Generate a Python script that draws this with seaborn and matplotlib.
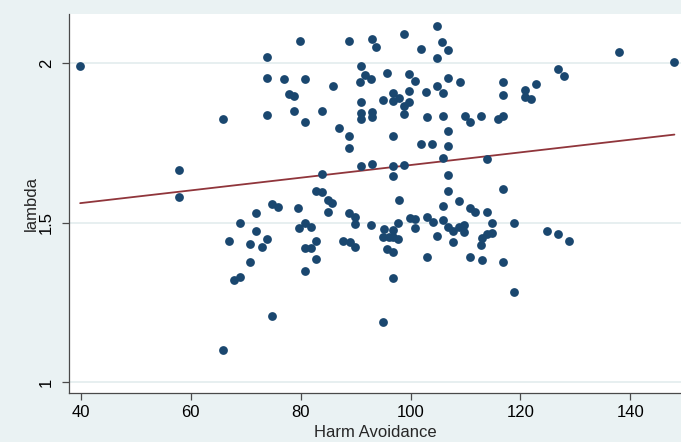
import matplotlib
matplotlib.use("Agg")
import matplotlib.pyplot as plt
import seaborn as sns
import pandas as pd

# Harm Avoidance score and lambda for each subject
harm_avoidance = [
    39.9, 57.9, 57.9, 65.8, 65.8, 66.9, 67.8, 68.9, 68.9, 70.8,
    70.8, 71.9, 71.9, 72.9, 73.8, 73.8, 73.8, 73.8, 74.8, 75.8,
    74.8, 76.9, 77.8, 78.8, 78.8, 79.9, 79.6, 79.7, 80.8, 80.8,
    80.8, 81.9, 80.8, 81.9, 80.8, 82.8, 82.8, 82.8, 83.9, 83.9,
    83.9, 84.9, 85.8, 84.9, 85.9, 86.9, 88.8, 88.8, 88.8, 88.8,
    89.9, 89.9, 87.8, 89.0, 89.9, 90.9, 91.7, 92.8, 90.8, 90.9,
    90.9, 92.9, 90.9, 92.9, 90.9, 92.9, 92.9, 93.8, 92.8, 95.8,
    94.9, 96.9, 97.9, 96.9, 96.9, 96.9, 96.9, 97.9, 95.1, 94.9,
    96.0, 96.9, 97.8, 97.8, 95.7, 96.9, 96.9, 94.9, 98.9, 99.8,
    100.9, 99.8, 99.8, 98.9, 98.9, 98.9, 99.9, 100.9, 100.9, 101.9,
    101.9, 102.8, 103.0, 103.9, 103.0, 104.0, 103.0, 104.8, 104.9, 105.8,
    106.9, 104.9, 104.9, 105.9, 105.9, 105.9, 105.9, 105.9, 106.9, 106.9,
    106.9, 106.9, 106.9, 106.9, 107.8, 108.8, 109.8, 107.8, 108.9, 109.0,
    109.9, 110.9, 110.8, 111.7, 109.8, 110.8, 112.8, 113.9, 113.9, 114.9,
    113.0, 113.9, 114.9, 112.9, 113.0, 116.0, 116.9, 116.9, 116.9, 116.8,
    116.8, 118.9, 118.9, 120.9, 120.9, 121.9, 122.9, 124.9, 126.9, 128.8,
    126.9, 128.0, 137.9, 148.0, 96.9,
]
lambda_vals = [
    1.992, 1.664, 1.580, 1.825, 1.101, 1.442, 1.319, 1.329, 1.498, 1.434,
    1.376, 1.475, 1.531, 1.424, 1.450, 2.019, 1.955, 1.838, 1.558, 1.550,
    1.207, 1.950, 1.905, 1.898, 1.849, 2.071, 1.547, 1.483, 1.951, 1.817,
    1.498, 1.486, 1.420, 1.421, 1.347, 1.441, 1.387, 1.600, 1.597, 1.652,
    1.851, 1.571, 1.562, 1.532, 1.928, 1.796, 2.071, 1.773, 1.733, 1.529,
    1.519, 1.496, 1.442, 1.438, 1.424, 1.991, 1.964, 1.951, 1.940, 1.878,
    1.844, 1.846, 1.825, 1.831, 1.678, 1.684, 2.076, 2.050, 1.494, 1.970,
    1.886, 1.906, 1.891, 1.881, 1.772, 1.678, 1.647, 1.571, 1.479, 1.456,
    1.456, 1.477, 1.498, 1.448, 1.416, 1.409, 1.326, 1.187, 2.092, 1.966,
    1.944, 1.914, 1.878, 1.867, 1.841, 1.681, 1.514, 1.511, 1.482, 2.045,
    1.746, 1.909, 1.831, 1.746, 1.519, 1.503, 1.393, 1.458, 2.118, 2.066,
    2.042, 2.016, 1.930, 1.907, 1.836, 1.704, 1.552, 1.508, 1.954, 1.788,
    1.741, 1.650, 1.600, 1.487, 1.475, 1.487, 1.493, 1.440, 1.567, 1.940,
    1.835, 1.816, 1.545, 1.534, 1.472, 1.391, 1.836, 1.700, 1.534, 1.498,
    1.451, 1.463, 1.468, 1.430, 1.382, 1.825, 1.836, 1.940, 1.900, 1.606,
    1.376, 1.499, 1.283, 1.916, 1.895, 1.888, 1.935, 1.475, 1.464, 1.442,
    1.981, 1.960, 2.034, 2.004, 1.456,
]

x_ticks = [40, 60, 80, 100, 120, 140]
y_ticks = [1, 1.5, 2]
y_tick_labels = ["1", "1.5", "2"]

df = pd.DataFrame({"Harm Avoidance": harm_avoidance, "lambda": lambda_vals})

BG = "#eaf2f3"
NAVY = "#1a476f"
MAROON = "#90353b"
GRID = "#e3ecee"
AXIS = "#4a4a4a"

sns.set_style("white")
plt.rcParams["font.family"] = ["Liberation Sans", "DejaVu Sans"]

fig = plt.figure(figsize=(6.81, 4.42), dpi=100, facecolor=BG)
ax = fig.add_axes([69 / 681, 49 / 442, 612 / 681, 379 / 442])
ax.set_facecolor("white")

sns.scatterplot(data=df, x="Harm Avoidance", y="lambda", ax=ax,
                color=NAVY, s=40, linewidth=0, zorder=3)
sns.regplot(data=df, x="Harm Avoidance", y="lambda", ax=ax, scatter=False,
            ci=None, color=MAROON, line_kws={"linewidth": 1.3, "zorder": 2})

ax.set_xlim(37.87, 149.2)
ax.set_ylim(0.9655, 2.1547)
ax.set_xticks(x_ticks)
ax.set_yticks(y_ticks)
ax.set_yticklabels(y_tick_labels, rotation=90, va="center", ha="right")

ax.grid(axis="y", color=GRID, linewidth=1.2, zorder=0)
ax.grid(axis="x", visible=False)
ax.set_axisbelow(True)

for side in ("top", "right"):
    ax.spines[side].set_visible(False)
for side in ("left", "bottom"):
    ax.spines[side].set_color(AXIS)
    ax.spines[side].set_linewidth(0.9)

ax.tick_params(axis="both", direction="out", length=5, width=0.9,
               color=AXIS, labelsize=12, labelcolor="black",
               left=True, bottom=True)
ax.tick_params(axis="x", pad=3.5)
ax.tick_params(axis="y", pad=6)

ax.set_xlabel("Harm Avoidance", fontsize=12, labelpad=4)
ax.set_ylabel("lambda", fontsize=12, labelpad=0)

fig.savefig("out.png", dpi=100, facecolor=BG)
